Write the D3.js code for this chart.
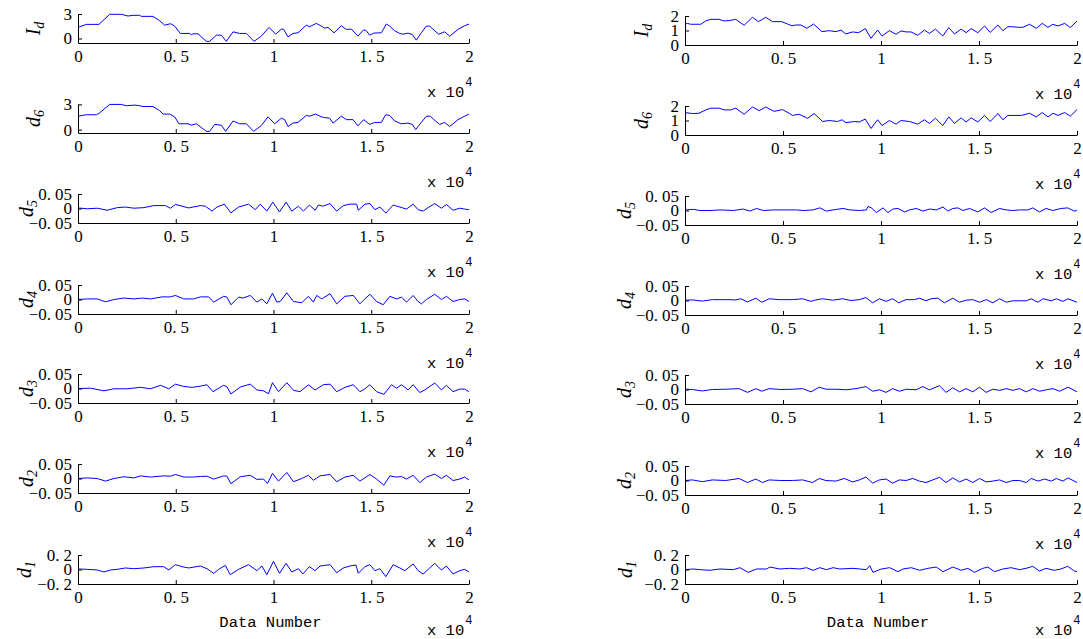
<!DOCTYPE html>
<html>
<head>
<meta charset="utf-8">
<script src="https://cdn.jsdelivr.net/npm/d3@7"></script>
<style>
  body { margin: 0; background: #fff; }
  svg { display: block; }
</style>
</head>
<body>
<script>
const width = 1083;
const height = 639;

// x axis: data number, shown in units of 10^4
const xTicks = [0, 5000, 10000, 15000, 20000];
const xTickLabels = ["0", "0.5", "1", "1.5", "2"];

// row names (main, subscript)
const rowNames = [["I", "d"], ["d", "6"], ["d", "5"], ["d", "4"], ["d", "3"], ["d", "2"], ["d", "1"]];

const leftYDomains = [[-0.55, 3], [-0.4, 3.05], [-0.05, 0.05], [-0.05, 0.05], [-0.05, 0.05], [-0.05, 0.05], [-0.2, 0.2]];
const rightYDomains = [[0, 2], [0, 2], [-0.05, 0.05], [-0.05, 0.05], [-0.05, 0.05], [-0.05, 0.05], [-0.2, 0.2]];
const leftYTicks = [[0, 3], [0, 3], [-0.05, 0, 0.05], [-0.05, 0, 0.05], [-0.05, 0, 0.05], [-0.05, 0, 0.05], [-0.2, 0, 0.2]];
const rightYTicks = [[0, 1, 2], [0, 1, 2], [-0.05, 0, 0.05], [-0.05, 0, 0.05], [-0.05, 0, 0.05], [-0.05, 0, 0.05], [-0.2, 0, 0.2]];

// ---- left column series [data number, value] ----
const leftId = [[0,1.36],[426,1.73],[1074,1.73],[1620,2.96],[2217,2.96],[2557,2.75],[2813,2.84],[3154,2.84],[3240,2.71],[3836,2.71],[4177,2.18],[4433,1.64],[4740,1.81],[4945,1.52],[5234,0.62],[5712,0.62],[5797,0.45],[5882,0.58],[6138,0.58],[6564,-0.35],[6735,-0.35],[7076,0.41],[7332,0.41],[7587,-0.35],[7928,0.82],[8269,0.62],[8610,0.62],[9003,-0.35],[9378,0.29],[9770,1.36],[10111,0.53],[10400,1.15],[10520,1.11],[10742,0.2],[10997,0.62],[11253,0.7],[11680,1.64],[11850,1.44],[12191,1.85],[12447,1.52],[12617,1.27],[12788,1.36],[13095,0.7],[13470,1.56],[13726,1.11],[13981,1.15],[14322,0.29],[14612,1.07],[14748,0.95],[14919,0.41],[15123,0.66],[15516,0.7],[15772,1.77],[15942,1.52],[16198,0.95],[16453,0.62],[16624,0.53],[16880,0.66],[17101,0.49],[17306,-0.2],[17562,0.7],[17818,1.52],[17988,1.52],[18244,0.95],[18449,0.53],[18756,0.82],[19011,0.29],[19437,1.11],[19778,1.56],[20000,1.77]];

const leftD6 = [[0,1.6],[426,1.77],[938,1.77],[1074,1.93],[1620,3.0],[2217,3.0],[2472,2.84],[2899,2.92],[3154,2.84],[3325,2.75],[3836,2.75],[4177,2.26],[4348,1.85],[4689,1.85],[4945,1.52],[5166,0.7],[5627,0.7],[5797,0.53],[6053,0.7],[6564,-0.2],[6735,-0.2],[6991,0.62],[7332,0.53],[7553,-0.2],[7928,1.03],[8269,0.7],[8610,0.7],[8985,-0.2],[9378,0.49],[9719,1.52],[10060,0.7],[10400,1.36],[10571,1.19],[10742,0.37],[10997,0.78],[11253,0.86],[11680,1.69],[11850,1.6],[12157,1.85],[12447,1.52],[12617,1.44],[12873,1.36],[13044,0.78],[13470,1.6],[13726,1.19],[14067,1.19],[14322,0.45],[14612,1.19],[14919,0.62],[15175,0.86],[15516,0.86],[15737,1.77],[15942,1.69],[16198,1.03],[16539,0.7],[16880,0.78],[17101,0.62],[17272,0.0],[17562,0.86],[17818,1.6],[18022,1.6],[18244,1.11],[18500,0.62],[18756,0.86],[19011,0.37],[19437,1.19],[19778,1.6],[20000,1.85]];

const leftD5 = [[0,0.002],[476,-0.001],[986,0.001],[1497,-0.006],[2007,0.003],[2432,0.005],[2857,0.001],[3367,0.003],[3878,0.01],[4473,0.01],[4728,0.001],[4983,0.014],[5323,0.008],[5663,0.002],[6259,0.01],[6514,0.008],[6854,-0.009],[7109,0.005],[7483,0.015],[7823,-0.015],[8214,0.005],[8724,0.015],[9065,-0.004],[9320,0.015],[9660,-0.009],[9966,0.022],[10306,-0.012],[10646,0.022],[10935,-0.009],[11276,0.008],[11531,-0.009],[11837,0.012],[12126,-0.006],[12296,0.012],[12517,0.008],[12891,0.017],[13231,-0.009],[13571,0.01],[13912,0.015],[14252,0.015],[14337,-0.006],[14677,0.015],[14932,0.017],[15187,-0.004],[15442,0.005],[15748,-0.016],[16122,0.012],[16463,0.005],[16803,-0.002],[17143,0.015],[17398,-0.004],[17653,-0.009],[17908,0.003],[18248,0.017],[18588,0.001],[18844,0.014],[19184,-0.006],[19524,0.001],[19779,-0.002],[20000,-0.004]];

const leftD4 = [[0,0],[476,0.002],[986,0.002],[1411,-0.008],[1837,0],[2347,0.005],[2857,0.002],[3282,0.005],[3707,0.002],[4303,0.009],[4728,0.009],[4983,0.014],[5408,0.002],[5918,0.002],[6259,0.009],[6684,0.009],[6939,-0.009],[7449,0.011],[7619,0.008],[7823,-0.018],[8214,0.008],[8435,0.005],[8810,0.014],[9150,-0.009],[9405,0.002],[9660,-0.015],[9949,0.022],[10170,-0.009],[10340,-0.007],[10680,0.023],[11020,-0.007],[11446,-0.011],[11786,0.011],[12041,-0.009],[12211,0.014],[12466,0.002],[12891,0.02],[13231,-0.015],[13656,0.011],[14082,0.014],[14422,-0.015],[14592,-0.003],[14932,0.018],[15272,-0.007],[15612,-0.018],[15952,0.011],[16293,0.002],[16548,0.008],[16803,-0.009],[17143,0.014],[17398,-0.007],[17568,-0.015],[17823,0],[18248,0.018],[18588,0],[18844,0.011],[19184,-0.007],[19524,0],[19779,0.002],[20000,-0.007]];

const leftD3 = [[0,0],[646,0.001],[1326,-0.008],[1837,-0.001],[2517,-0.001],[3197,0.004],[3707,-0.001],[4218,0.011],[4643,-0.001],[4983,0.015],[5408,0.007],[5833,0.004],[6259,0.008],[6599,0.013],[6905,-0.011],[7449,0.011],[7619,0.006],[7823,-0.019],[8299,0.005],[8810,0.015],[9150,-0.005],[9490,-0.008],[9745,-0.018],[9949,0.02],[10255,-0.011],[10680,0.02],[11020,-0.006],[11360,-0.011],[11786,0.013],[12126,-0.005],[12551,0.013],[12891,0.015],[13231,-0.011],[13656,0.004],[14082,0.013],[14422,-0.011],[14677,-0.001],[14932,0.013],[15272,-0.011],[15646,-0.02],[16037,0.013],[16293,0.001],[16548,0.013],[16888,-0.005],[17143,0.013],[17483,-0.014],[17738,-0.005],[18248,0.019],[18588,-0.005],[18844,0.011],[19184,-0.011],[19524,-0.002],[19779,-0.002],[20000,-0.011]];

const leftD2 = [[0,0],[476,0.002],[986,0],[1411,-0.009],[1837,0],[2347,0.006],[2857,0.002],[3197,0.009],[3707,0.005],[4388,0.009],[4728,0.008],[4983,0.014],[5408,0.005],[5918,0.005],[6259,0.007],[6599,0.008],[6939,-0.002],[7449,0.009],[7619,0.008],[7823,-0.018],[8299,0.006],[8810,0.011],[9150,-0.003],[9490,-0.002],[9694,-0.017],[9949,0.018],[10255,-0.009],[10680,0.021],[11020,-0.011],[11446,0],[11786,0.011],[12041,-0.006],[12381,0.009],[12891,0.014],[13231,-0.011],[13656,0.005],[14082,0.011],[14422,-0.009],[14932,0.014],[15272,-0.002],[15646,-0.023],[15952,0.009],[16293,0.005],[16548,0.007],[16803,-0.002],[17143,0.011],[17483,-0.014],[17823,0.005],[18248,0.015],[18588,0],[18844,0.011],[19184,-0.007],[19524,-0.002],[19779,0.005],[20000,-0.005]];

const leftD1 = [[0,0.007],[476,0.002],[986,-0.007],[1327,-0.034],[1667,-0.007],[2007,0.002],[2432,0.021],[2857,0.011],[3367,0.021],[3878,0.039],[4388,0.039],[4643,-0.007],[4983,0.067],[5323,0.039],[5663,0.021],[6259,0.048],[6599,0.011],[6939,-0.053],[7194,0.002],[7534,0.057],[7789,-0.071],[8214,0.002],[8724,0.067],[9150,-0.016],[9405,0.048],[9660,-0.071],[10000,0.113],[10306,-0.053],[10646,0.085],[10935,-0.034],[11276,0.011],[11497,-0.062],[11837,0.039],[12126,-0.016],[12381,0.048],[12891,0.067],[13231,-0.044],[13571,0.021],[13912,0.048],[14218,0.062],[14337,-0.053],[14677,0.039],[14932,0.067],[15187,-0.016],[15442,0.011],[15748,-0.099],[16122,0.067],[16463,0.021],[16718,-0.016],[17143,0.076],[17398,-0.016],[17653,-0.062],[17993,0.021],[18248,0.085],[18588,-0.007],[18844,0.048],[19184,-0.062],[19524,-0.016],[19779,0.002],[20000,-0.034]];

// ---- right column series ----
const rightId = [[0,1.45],[119,1.49],[290,1.43],[801,1.43],[1056,1.66],[1312,1.77],[1738,1.77],[1993,1.66],[2249,1.68],[2589,1.77],[3015,1.36],[3441,1.91],[3748,1.61],[4123,1.91],[4463,1.61],[4940,1.61],[5230,1.45],[5451,1.33],[5656,1.38],[5911,1.38],[6218,1.15],[6559,1.45],[6985,0.92],[7360,0.99],[7700,0.92],[7956,1.03],[8211,0.76],[8552,0.9],[8859,0.85],[9199,1.13],[9489,0.46],[9830,1.03],[10051,0.62],[10426,0.99],[10767,0.74],[11022,0.97],[11278,0.9],[11533,0.9],[11874,0.67],[12215,1.03],[12470,0.8],[12777,1.1],[13152,0.62],[13458,1.2],[13748,0.76],[14089,1.1],[14344,0.85],[14600,1.13],[14940,0.85],[15281,1.31],[15571,0.87],[15963,1.38],[16218,0.99],[16474,1.26],[16729,1.26],[16985,1.22],[17240,1.22],[17581,1.43],[17922,1.15],[18228,1.49],[18518,1.22],[18773,1.43],[19029,1.31],[19370,1.49],[19659,1.2],[20000,1.66]];

const rightD6 = [[0,1.55],[375,1.48],[716,1.5],[1056,1.73],[1312,1.85],[1738,1.85],[1993,1.73],[2334,1.73],[2589,1.85],[3015,1.43],[3441,1.93],[3782,1.68],[4123,1.93],[4549,1.63],[4974,1.75],[5315,1.5],[5486,1.35],[5826,1.43],[6252,1.15],[6593,1.48],[7019,0.93],[7360,1.0],[7786,0.93],[8007,1.05],[8211,0.85],[8637,0.93],[8893,0.9],[9199,1.1],[9489,0.45],[9830,1.05],[10051,0.65],[10426,1.0],[10767,0.75],[11022,1.0],[11448,0.93],[11874,0.75],[12215,1.05],[12470,0.8],[12777,1.15],[13152,0.65],[13458,1.25],[13748,0.8],[14089,1.18],[14344,0.9],[14600,1.18],[14940,0.9],[15281,1.35],[15571,0.93],[15963,1.48],[16218,1.05],[16474,1.35],[17155,1.35],[17581,1.5],[17922,1.25],[18228,1.55],[18518,1.25],[18773,1.5],[19029,1.35],[19370,1.55],[19659,1.3],[20000,1.75]];

const rightD5 = [[0,0.002],[424,0.004],[764,0],[1273,0],[1783,0.002],[2462,0],[2971,0.005],[3311,-0.002],[3650,0.007],[3990,0],[4499,0.002],[5178,0.002],[5688,0.002],[6027,0],[6537,0.002],[6876,0.009],[7216,-0.002],[7555,0.002],[8065,0.007],[8404,0.002],[8913,0],[9253,0.002],[9338,0.014],[9508,0.009],[9762,-0.007],[10102,0.009],[10357,-0.007],[10611,0.005],[10866,0.007],[11206,-0.005],[11461,0.002],[11800,0.007],[12139,-0.002],[12479,0.005],[12818,0.002],[13158,0.012],[13413,-0.002],[13667,0.007],[13922,0.009],[14177,0],[14516,0.007],[14941,-0.005],[15280,0.009],[15620,-0.007],[16044,0.007],[16384,0.002],[16723,0],[17063,0.002],[17487,0.002],[17742,0.009],[18081,-0.005],[18421,0.007],[18761,0],[19185,0.007],[19525,0.009],[19864,-0.002],[20000,0]];

const rightD4 = [[0,0.001],[375,0.002],[886,-0.002],[1397,0.003],[2078,0.003],[2589,0.002],[2845,0.006],[3186,-0.005],[3612,0.008],[3918,-0.006],[4293,0.006],[4804,0.003],[5486,0.003],[5997,0.006],[6422,-0.003],[6678,0.002],[7019,0.006],[7530,0.001],[8041,0.006],[8467,0],[8893,0.003],[9233,0.01],[9574,-0.008],[9915,0.006],[10256,-0.003],[10596,0.006],[10903,-0.008],[11278,0.003],[11704,0.003],[11959,0.008],[12300,-0.001],[12555,0.006],[12896,0.008],[13237,-0.008],[13663,0.008],[14003,-0.006],[14344,0.001],[14685,0.003],[15026,-0.006],[15366,0.003],[15707,-0.008],[16048,0.006],[16389,-0.006],[16729,-0.001],[17070,-0.001],[17411,-0.001],[17666,0.006],[18007,-0.006],[18262,0.006],[18688,-0.001],[18944,0.006],[19285,-0.003],[19540,0.006],[20000,-0.006]];

const rightD3 = [[0,0.001],[375,0],[886,-0.005],[1397,0],[2078,0.001],[2760,0.003],[3186,-0.01],[3612,0.003],[3918,-0.006],[4293,0.003],[4889,0],[5486,0.001],[5997,0.003],[6422,-0.008],[6848,0.008],[7189,0.001],[7700,0.001],[8211,-0.001],[8722,0.003],[9233,0.01],[9574,-0.006],[9915,-0.001],[10256,-0.01],[10596,0.003],[10937,-0.006],[11278,0.001],[11789,-0.001],[12129,0.01],[12470,-0.001],[12981,0.013],[13322,-0.01],[13663,0.006],[14003,-0.008],[14344,0.003],[14685,-0.008],[15026,0.008],[15366,-0.01],[15707,0.001],[16048,-0.003],[16389,0.003],[16729,-0.003],[17070,0.003],[17411,-0.008],[17751,0.003],[18092,-0.006],[18433,-0.001],[18773,0.003],[19114,-0.006],[19540,0.008],[20000,-0.008]];

const rightD2 = [[0,0],[375,0.002],[886,-0.004],[1397,0.002],[2078,0],[2760,0.007],[3186,-0.007],[3612,0.005],[3952,-0.007],[4293,0.002],[4889,0],[5486,0],[5997,0.002],[6508,-0.007],[6848,0.007],[7189,0],[7700,-0.002],[8126,0.007],[8552,-0.005],[8893,0.002],[9233,0.012],[9574,-0.009],[9915,0.002],[10256,0.005],[10596,-0.009],[10937,0.002],[11278,0],[11619,0.007],[11959,-0.002],[12300,-0.007],[12641,0.002],[12981,0.011],[13322,-0.007],[13663,0.009],[14003,-0.005],[14344,0.005],[14685,-0.007],[15026,0.007],[15366,-0.005],[15707,-0.002],[16048,0.002],[16389,-0.007],[16729,0],[17070,0],[17411,-0.007],[17666,0.007],[18007,-0.002],[18347,0.005],[18688,-0.002],[18944,0.007],[19285,-0.002],[19540,0.009],[20000,-0.007]];

const rightD1 = [[0,-0.002],[424,0.007],[764,-0.002],[1273,-0.011],[1783,0.007],[2462,-0.002],[2801,0.025],[3226,-0.039],[3650,0.007],[4160,0.007],[4329,0.034],[4839,0.007],[5348,0.016],[5857,0.007],[6197,0.025],[6537,-0.011],[6876,0.025],[7216,-0.002],[7555,0.025],[7895,0.007],[8574,0.016],[8913,0.007],[9253,-0.002],[9423,0.053],[9593,-0.039],[10017,0.007],[10442,0.025],[10866,-0.03],[11121,0.007],[11545,0.025],[11970,-0.011],[12394,0.016],[12818,0.034],[13158,-0.03],[13667,0.034],[14092,-0.011],[14431,0.016],[14771,-0.039],[15195,0.016],[15450,0.034],[15790,-0.03],[16214,0.007],[16638,0.025],[17063,-0.002],[17402,0.016],[17742,0.044],[18081,-0.021],[18421,0.016],[18845,-0.011],[19185,0.007],[19525,0.044],[19864,-0.021],[20000,-0.03]];

const leftSeries = [leftId, leftD6, leftD5, leftD4, leftD3, leftD2, leftD1];
const rightSeries = [rightId, rightD6, rightD5, rightD4, rightD3, rightD2, rightD1];

// layout
const plotH = 29;
const columns = [
  { x0: 78, x1: 469, tops: [14, 104, 194, 285, 374, 464, 555], labelX: [40, 40, 33, 33, 33, 33, 31],
    series: leftSeries, domains: leftYDomains, ticks: leftYTicks },
  { x0: 685, x1: 1077, tops: [16, 106, 196, 286, 375, 466, 555], labelX: [648, 648, 631, 631, 631, 631, 632],
    series: rightSeries, domains: rightYDomains, ticks: rightYTicks }
];

const tickFont = "'Liberation Serif', 'Times New Roman', serif";
const monoFont = "'Liberation Mono', 'DejaVu Sans Mono', monospace";

const svg = d3.select("body")
  .append("svg")
  .attr("width", width)
  .attr("height", height);

// rebuild a tick label so the digits after the point get the wide gap of the original font
function setLabel(textSel, label) {
  textSel.text(null);
  const parts = label.split(".");
  if (parts.length === 1) {
    textSel.append("tspan").text(label);
  } else {
    textSel.append("tspan").text(parts[0] + ".");
    textSel.append("tspan").attr("dx", 4).text(parts[1]);
  }
}

function fmtY(v) {
  if (v === 0) return "0";
  return (v < 0 ? "\u2212" : "") + String(Math.abs(v));
}

columns.forEach(col => {
  col.series.forEach((data, i) => {
    const top = col.tops[i];
    const bottom = top + plotH;

    const x = d3.scaleLinear().domain([0, 20000]).range([col.x0, col.x1]);
    const y = d3.scaleLinear().domain(col.domains[i]).range([bottom, top]);

    const g = svg.append("g");

    // data line
    g.append("path")
      .datum(data)
      .attr("fill", "none")
      .attr("stroke", "#0000ff")
      .attr("stroke-width", 1)
      .attr("stroke-linejoin", "round")
      .attr("d", d3.line().x(d => x(d[0])).y(d => y(d[1])));

    // x axis
    const xAxis = g.append("g")
      .attr("transform", `translate(0,${bottom})`)
      .call(d3.axisBottom(x).tickValues(xTicks).tickSizeInner(-4).tickSizeOuter(0).tickPadding(7));
    xAxis.selectAll(".tick text").each(function(d, k) {
      setLabel(d3.select(this), xTickLabels[k]);
    });

    // y axis
    const yAxis = g.append("g")
      .attr("transform", `translate(${col.x0},0)`)
      .call(d3.axisLeft(y).tickValues(col.ticks[i]).tickSizeInner(-4).tickSizeOuter(0).tickPadding(6));
    yAxis.selectAll(".tick text").each(function(d) {
      setLabel(d3.select(this), fmtY(d));
    });

    g.selectAll(".domain").attr("stroke", "#000").attr("stroke-width", 1);
    g.selectAll(".tick line").attr("stroke", "#000");
    g.selectAll(".tick text")
      .attr("fill", "#000")
      .style("font-family", tickFont)
      .style("font-size", "17px");

    // y label, rotated
    const lab = g.append("text")
      .attr("transform", `translate(${col.labelX[i]},${(top + bottom) / 2}) rotate(-90)`)
      .attr("text-anchor", "middle")
      .style("font-family", tickFont)
      .style("font-style", "italic")
      .style("font-size", "20px");
    lab.append("tspan").text(rowNames[i][0]);
    lab.append("tspan").attr("dy", 4).style("font-size", "14px").text(rowNames[i][1]);

    // x 10^4 multiplier
    const mult = g.append("text")
      .attr("x", col.x1 - 42)
      .attr("y", bottom + (i === 6 ? 51 : 54))
      .style("font-family", monoFont)
      .style("font-size", "15.5px")
      .attr("fill", "#000");
    mult.append("tspan").text("x 10");
    mult.append("tspan").attr("dx", 1).attr("dy", -11).style("font-size", "12px").text("4");

    if (i === 6) {
      g.append("text")
        .attr("x", (col.x0 + col.x1) / 2 - 3)
        .attr("y", bottom + 43)
        .attr("text-anchor", "middle")
        .style("font-family", monoFont)
        .style("font-size", "15.5px")
        .attr("fill", "#000")
        .text("Data Number");
    }
  });
});
</script>
</body>
</html>
